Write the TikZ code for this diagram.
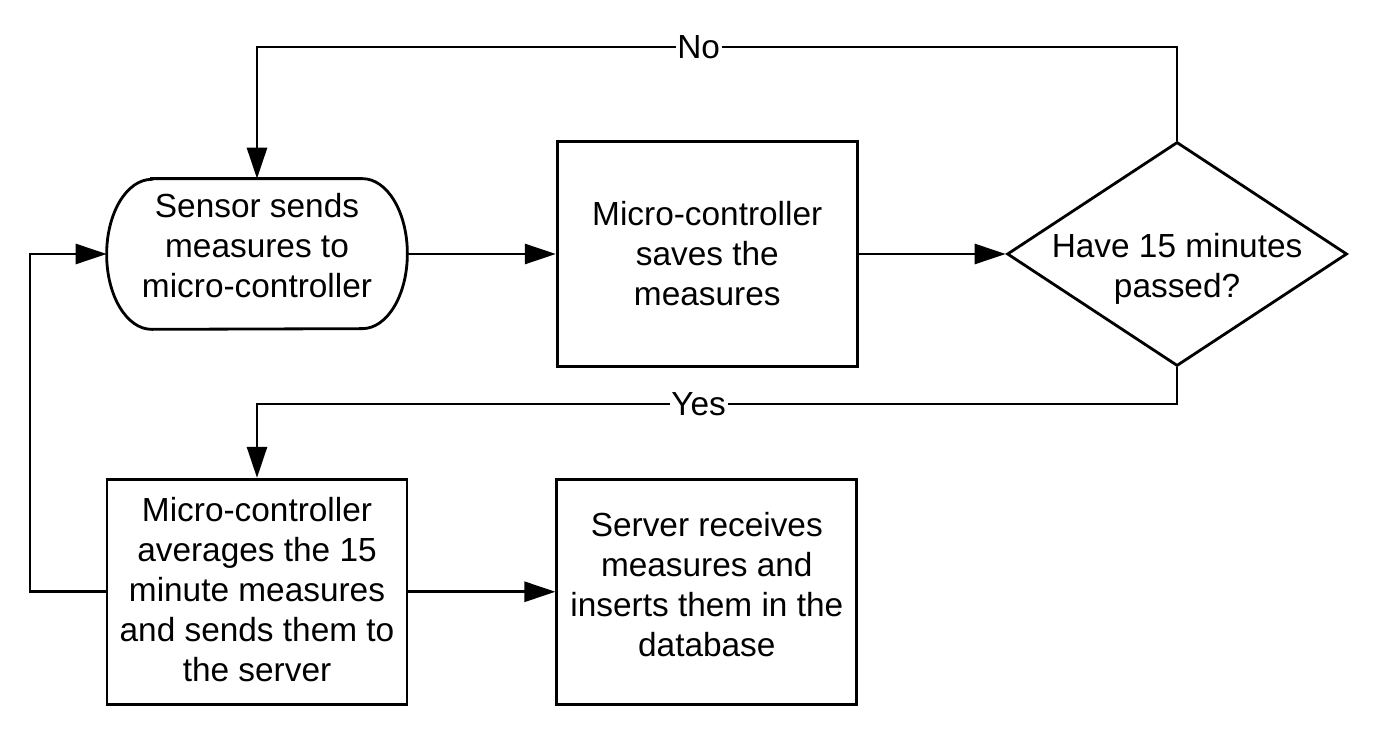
\documentclass[tikz,border=0pt]{standalone}
\usepackage{fontspec}
\setmainfont{Liberation Sans}
\usepackage{tikz}
\usetikzlibrary{arrows.meta}
\usetikzlibrary{positioning}
\usetikzlibrary{shapes.geometric}
\newcommand{\flowfont}{\fontsize{19}{22.8}\selectfont}
\tikzstyle{block} = [draw, line width=1.6pt,
	minimum width = 6cm,
	minimum height = 4.5cm,
	align=center, font=\flowfont]
\tikzstyle{terminal} = [minimum width = 6cm,
	minimum height = 3cm,
	align=center, font=\flowfont]
\tikzstyle{decision} = [draw, line width=1.6pt, diamond,
	minimum width = 6.8cm,
	minimum height = 4.48cm]
\tikzstyle{flowtext} = [align=center, font=\flowfont]
\tikzstyle{answer} = [fill=white, inner sep=1pt, font=\flowfont]
\tikzstyle{arrow} = [-{Triangle[length=0.62cm, width=0.4cm]}, line width=1.6pt]
\newcommand{\drawterminal}[1]{\draw[line width=1.6pt]
	([xshift=0.9cm]#1.north west) -- ([xshift=-0.9cm]#1.north east)
	arc[start angle=90, end angle=-90, x radius=0.9cm, y radius=1.5cm]
	-- ([xshift=0.9cm]#1.south west)
	arc[start angle=270, end angle=90, x radius=0.9cm, y radius=1.5cm] -- cycle}

\begin{document}
\begin{tikzpicture}
			\useasboundingbox (0,0) rectangle (27.72,-14.82);
			
			\node (sensor) [terminal, text depth=0.36cm] at (5.14,-5.08) {Sensor sends\\measures to\\micro-controller};
			\drawterminal{sensor};
			\node (saves) [block, right=2.97cm of sensor] {Micro-controller\\saves the\\measures};
			\node (dia) [decision, right=2.94cm of saves] {};
			\node (diatext) [flowtext, yshift=-0.3cm] at (dia) {Have 15 minutes\\passed?};
			
			\node (avg) [block, text depth=0.1cm, below=2.97cm of sensor] {Micro-controller\\averages the 15\\minute measures\\and sends them to\\the server};
			\node (server) [block, text depth=0.31cm, right=2.94cm of avg] {Server receives\\measures and\\inserts them in the\\database};
			
			\coordinate (no) at (0,-0.94);
			\coordinate (yes) at (0,-8.08);
			\coordinate (loop) at (0.6,0);
			
			\draw [arrow] (sensor) -- (saves);
			\draw [arrow] (saves) -- (dia);
			\draw [arrow] (avg) -- (server);
			\draw [arrow] (dia.north) -- (dia.north |- no) -- node (nolabel) [answer, pos=0.52] {No} (sensor.north |- no) -- (sensor.north);
			\draw [arrow] (dia.south) -- (dia.south |- yes) -- node (yeslabel) [answer, pos=0.52] {Yes} (avg.north |- yes) -- (avg.north);
			\draw [arrow] (avg.west) -- (avg.west -| loop) |- (sensor.west);
		\end{tikzpicture}
\end{document}
